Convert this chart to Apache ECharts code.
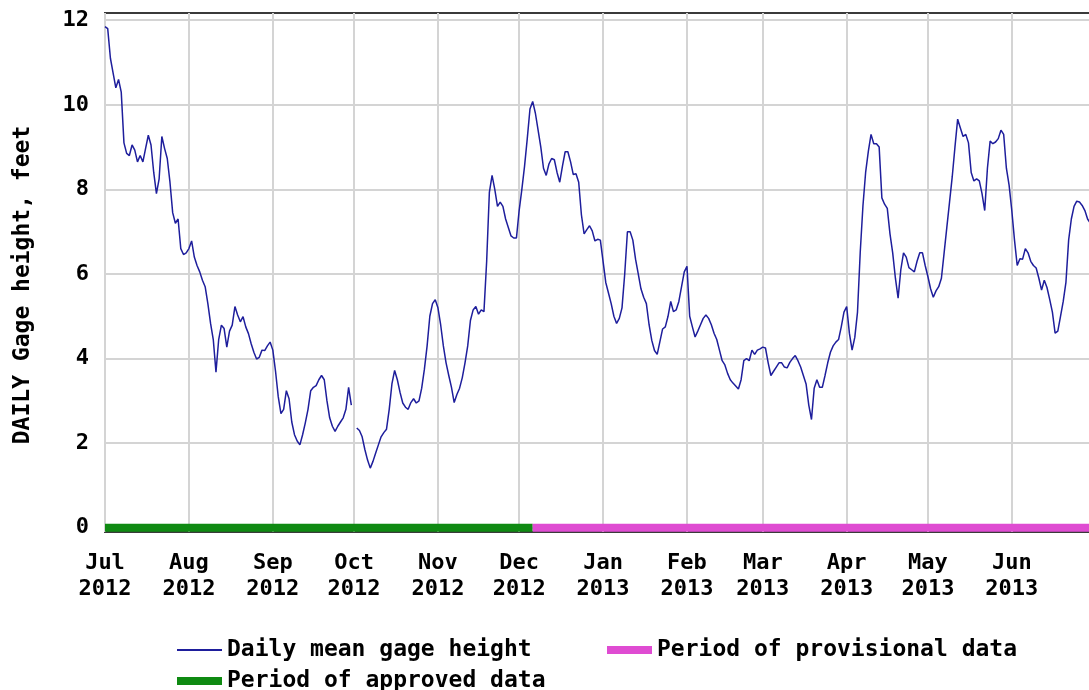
<!DOCTYPE html>
<html>
<head>
<meta charset="utf-8">
<title>Daily mean gage height</title>
<script src="https://cdn.jsdelivr.net/npm/echarts@6/dist/echarts.min.js"></script>
<style>
  html, body { margin: 0; padding: 0; background: #fff; }
  #chart { width: 1089px; height: 690px; }
</style>
</head>
<body>
<div id="chart"></div>
<script>
// daily mean gage height, feet (one value per day, null = no record)
var jul2012 = [11.85, 11.8, 11.1, 10.75, 10.4, 10.6, 10.3, 9.1, 8.85, 8.8, 9.05, 8.93, 8.65, 8.8, 8.65, 8.97,
  9.28, 9.05, 8.4, 7.9, 8.25, 9.25, 8.97, 8.73, 8.17, 7.45, 7.2, 7.3, 6.6, 6.46, 6.5];
var aug2012 = [6.6, 6.78, 6.4, 6.2, 6.05, 5.85, 5.7, 5.3, 4.83, 4.45, 3.68, 4.45, 4.79, 4.71, 4.27, 4.65,
  4.79, 5.23, 5.03, 4.87, 4.99, 4.75, 4.59, 4.35, 4.15, 3.99, 4.03, 4.2, 4.19, 4.3, 4.39];
var sep2012 = [4.2, 3.7, 3.1, 2.7, 2.8, 3.24, 3.05, 2.5, 2.2, 2.05, 1.96, 2.2, 2.48, 2.8, 3.24, 3.32,
  3.36, 3.5, 3.6, 3.5, 3.0, 2.6, 2.4, 2.28, 2.4, 2.5, 2.6, 2.8, 3.32, 2.9];
var oct2012 = [null, 2.36, 2.3, 2.15, 1.85, 1.6, 1.41, 1.57, 1.77, 1.96, 2.15, 2.25, 2.33, 2.8, 3.4, 3.72,
  3.5, 3.2, 2.95, 2.85, 2.8, 2.96, 3.05, 2.95, 3.0, 3.3, 3.75, 4.3, 5.0, 5.3, 5.39];
var nov2012 = [5.2, 4.8, 4.3, 3.9, 3.6, 3.32, 2.96, 3.15, 3.3, 3.55, 3.9, 4.3, 4.9, 5.15, 5.23, 5.05,
  5.15, 5.11, 6.3, 7.93, 8.33, 8.0, 7.6, 7.7, 7.6, 7.3, 7.1, 6.9, 6.85, 6.85];
var dec2012 = [7.5, 8.0, 8.55, 9.2, 9.9, 10.08, 9.8, 9.4, 9.0, 8.5, 8.33, 8.6, 8.73, 8.7, 8.4, 8.17,
  8.55, 8.89, 8.89, 8.65, 8.35, 8.37, 8.17, 7.4, 6.95, 7.05, 7.14, 7.02, 6.78, 6.82, 6.8];
var jan2013 = [6.3, 5.8, 5.55, 5.3, 5.0, 4.83, 4.95, 5.2, 6.0, 7.0, 7.0, 6.8, 6.35, 6.0, 5.65, 5.45,
  5.3, 4.8, 4.43, 4.19, 4.1, 4.4, 4.7, 4.75, 5.0, 5.35, 5.11, 5.15, 5.35, 5.7, 6.05];
var feb2013 = [6.18, 5.0, 4.75, 4.51, 4.65, 4.8, 4.95, 5.03, 4.95, 4.8, 4.6, 4.45, 4.2, 3.95, 3.85, 3.65,
  3.5, 3.42, 3.35, 3.28, 3.5, 3.95, 4.0, 3.95, 4.2, 4.1, 4.2, 4.23];
var mar2013 = [4.27, 4.25, 3.9, 3.6, 3.7, 3.8, 3.9, 3.9, 3.8, 3.78, 3.91, 4.0, 4.07, 3.95, 3.8, 3.6,
  3.4, 2.9, 2.56, 3.3, 3.5, 3.32, 3.32, 3.6, 3.9, 4.15, 4.3, 4.39, 4.45, 4.75, 5.1];
var apr2013 = [5.23, 4.6, 4.2, 4.5, 5.1, 6.5, 7.6, 8.4, 8.9, 9.3, 9.08, 9.08, 9.0, 7.8, 7.65, 7.55,
  6.95, 6.5, 5.9, 5.43, 6.1, 6.5, 6.4, 6.15, 6.1, 6.05, 6.3, 6.5, 6.5, 6.2];
var may2013 = [5.94, 5.65, 5.45, 5.6, 5.7, 5.9, 6.5, 7.1, 7.7, 8.3, 9.0, 9.66, 9.45, 9.25, 9.3, 9.1,
  8.4, 8.2, 8.25, 8.2, 7.9, 7.5, 8.5, 9.14, 9.08, 9.12, 9.2, 9.4, 9.3, 8.5, 8.1];
var jun2013 = [7.5, 6.8, 6.2, 6.36, 6.35, 6.6, 6.5, 6.3, 6.2, 6.14, 5.9, 5.62, 5.85, 5.68, 5.4, 5.1,
  4.6, 4.65, 5.0, 5.35, 5.8, 6.8, 7.3, 7.6, 7.72, 7.7, 7.62, 7.5, 7.3, 7.2];

var approvedPeriod = ['2012-07-01', '2012-12-06'];
var provisionalPeriod = ['2012-12-06', '2013-07-01'];
var axisRange = ['2012-07-01', '2013-07-01'];
var monthNames = ['Jan', 'Feb', 'Mar', 'Apr', 'May', 'Jun', 'Jul', 'Aug', 'Sep', 'Oct', 'Nov', 'Dec'];

function toDate(s) {
  var p = s.split('-');
  return new Date(+p[0], +p[1] - 1, +p[2]);
}

var blocks = [
  [2012, 6, jul2012], [2012, 7, aug2012], [2012, 8, sep2012], [2012, 9, oct2012],
  [2012, 10, nov2012], [2012, 11, dec2012], [2013, 0, jan2013], [2013, 1, feb2013],
  [2013, 2, mar2013], [2013, 3, apr2013], [2013, 4, may2013], [2013, 5, jun2013]
];
var daily = [];
for (var b = 0; b < blocks.length; b++) {
  for (var i = 0; i < blocks[b][2].length; i++) {
    daily.push([new Date(blocks[b][0], blocks[b][1], i + 1), blocks[b][2][i]]);
  }
}

var xMax = toDate(axisRange[1]).getTime();
var font = 'DejaVu Sans Mono';
var txt = { fontFamily: font, fontWeight: 'bold', fontSize: 22, color: '#000' };
var legendTxt = Object.assign({}, txt, { fontSize: 23, lineHeight: 24 });
var gridLine = { show: true, showMinLine: false, showMaxLine: false, lineStyle: { color: '#d4d4d4', width: 2 } };

var chart = echarts.init(document.getElementById('chart'));
chart.setOption({
  animation: false,
  backgroundColor: '#fff',
  grid: {
    left: 105, top: 13, right: -4, bottom: 158,
    outerBoundsMode: 'none', containLabel: false,
    show: true, borderColor: '#3a3a3a', borderWidth: 2, backgroundColor: '#fff'
  },
  xAxis: {
    type: 'time',
    min: toDate(axisRange[0]),
    max: xMax,
    splitNumber: 12,
    minInterval: 28 * 86400000,
    maxInterval: 31 * 86400000,
    axisLine: { show: false, onZero: false },
    axisTick: { show: false },
    splitLine: gridLine,
    axisLabel: Object.assign({}, txt, {
      margin: 18,
      lineHeight: 26,
      hideOverlap: false,
      formatter: function (v) {
        if (v >= xMax) return '';
        var d = new Date(v);
        return monthNames[d.getMonth()] + '\n' + d.getFullYear();
      }
    })
  },
  yAxis: {
    type: 'value',
    min: -0.1,
    max: 12.17,
    splitNumber: 6,
    axisLine: { show: false },
    axisTick: { show: false },
    splitLine: gridLine,
    axisLabel: Object.assign({}, txt, { margin: 16, showMinLabel: false, showMaxLabel: false })
  },
  legend: [
    { left: 177, top: 638, padding: 0, selectedMode: false, itemWidth: 45, itemHeight: 2, icon: 'rect',
      textStyle: legendTxt, data: ['Daily mean gage height'] },
    { left: 607, top: 638, padding: 0, selectedMode: false, itemWidth: 45, itemHeight: 8, icon: 'rect',
      textStyle: legendTxt, data: ['Period of provisional data'] },
    { left: 177, top: 669, padding: 0, selectedMode: false, itemWidth: 45, itemHeight: 8, icon: 'rect',
      textStyle: legendTxt, data: ['Period of approved data'] }
  ],
  graphic: [{
    type: 'text',
    x: 23,
    y: 285,
    rotation: Math.PI / 2,
    style: {
      text: 'DAILY Gage height, feet',
      font: 'bold 23px "' + font + '"',
      fill: '#000',
      textAlign: 'center',
      textVerticalAlign: 'middle'
    }
  }],
  series: [
    {
      name: 'Period of approved data',
      type: 'line',
      symbol: 'none',
      color: '#0f8a12',
      lineStyle: { width: 8, color: '#0f8a12' },
      data: approvedPeriod.map(function (s) { return [toDate(s), 0]; }),
      z: 3
    },
    {
      name: 'Period of provisional data',
      type: 'line',
      symbol: 'none',
      color: '#df4cd2',
      lineStyle: { width: 8, color: '#df4cd2' },
      data: provisionalPeriod.map(function (s) { return [toDate(s), 0]; }),
      z: 3
    },
    {
      name: 'Daily mean gage height',
      type: 'line',
      symbol: 'none',
      connectNulls: false,
      color: '#1e1e9c',
      lineStyle: { width: 1.5, color: '#1e1e9c' },
      data: daily,
      z: 4
    }
  ]
});
</script>
</body>
</html>
